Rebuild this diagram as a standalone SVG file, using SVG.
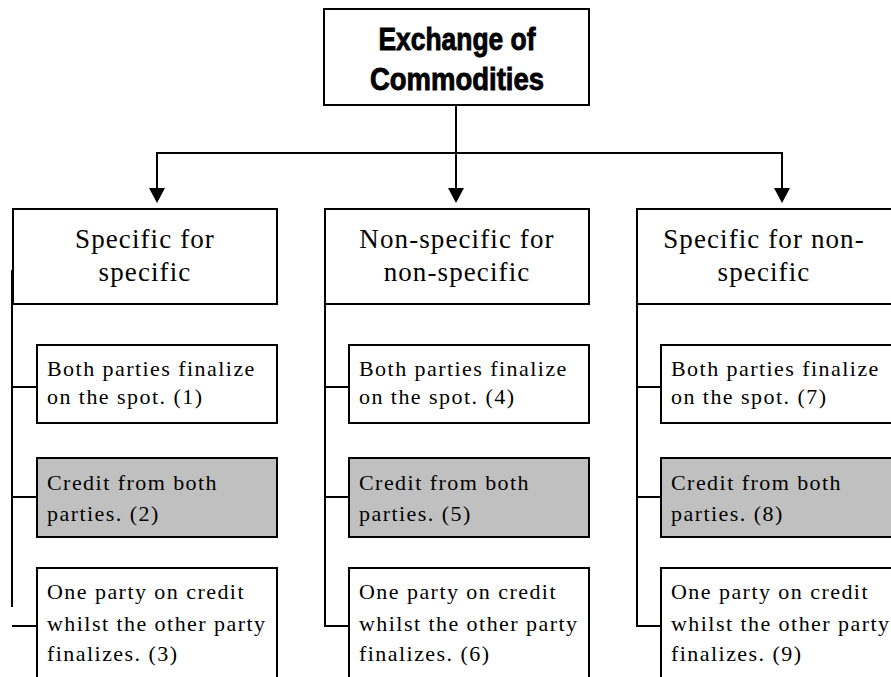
<svg xmlns="http://www.w3.org/2000/svg" width="891" height="677" viewBox="0 0 891 677">
<style>
.box{fill:#fff;stroke:#000;stroke-width:2}
.grey{fill:#c0c0c0;stroke:#000;stroke-width:2}
.ln{fill:none;stroke:#000;stroke-width:2}
.title{font-family:"Liberation Sans",Arial,sans-serif;font-weight:bold;font-size:32px;text-anchor:middle;stroke:#000;stroke-width:0.9px}
.h2{font-family:"Liberation Serif","Times New Roman",serif;font-size:27px;letter-spacing:1.1px;text-anchor:middle}
.t{font-family:"Liberation Serif","Times New Roman",serif;font-size:22px;letter-spacing:1.45px}
</style>
<g id="connectors">
<line class="ln" x1="456" y1="105" x2="456" y2="194"/>
<line class="ln" x1="156" y1="153" x2="783" y2="153"/>
<line class="ln" x1="157" y1="152" x2="157" y2="189"/>
<line class="ln" x1="782" y1="152" x2="782" y2="189"/>
<path d="M149,188 L165,188 L157,203 Z"/>
<path d="M448,188 L464,188 L456,203 Z"/>
<path d="M774,188 L790,188 L782,203 Z"/>
<line class="ln" x1="12" y1="270" x2="12" y2="607"/>
<line class="ln" x1="12" y1="387" x2="37" y2="387"/>
<line class="ln" x1="12" y1="497" x2="37" y2="497"/>
<line class="ln" x1="12" y1="626" x2="37" y2="626"/>
<path class="ln" d="M325,304 V626 H349"/>
<line class="ln" x1="325" y1="387" x2="349" y2="387"/>
<line class="ln" x1="325" y1="497" x2="349" y2="497"/>
<path class="ln" d="M637,304 V626 H661"/>
<line class="ln" x1="637" y1="387" x2="661" y2="387"/>
<line class="ln" x1="637" y1="497" x2="661" y2="497"/>
</g>
<g id="root">
<rect class="box" x="324" y="9" width="265" height="96"/>
<text class="title" x="457" y="50" textLength="157" lengthAdjust="spacingAndGlyphs">Exchange of</text>
<text class="title" x="457" y="90" textLength="174" lengthAdjust="spacingAndGlyphs">Commodities</text>
</g>
<g id="cat1">
<rect class="box" x="13" y="209" width="264" height="95"/>
<text class="h2" x="145" y="248">Specific for</text>
<text class="h2" x="145" y="281">specific</text>
</g>
<g id="cat2">
<rect class="box" x="325" y="209" width="264" height="95"/>
<text class="h2" x="457" y="248">Non-specific for</text>
<text class="h2" x="457" y="281">non-specific</text>
</g>
<g id="cat3">
<rect class="box" x="637" y="209" width="264" height="95"/>
<text class="h2" x="764" y="248">Specific for non-</text>
<text class="h2" x="764" y="281">specific</text>
</g>
<g id="n1">
<rect class="box" x="37" y="345" width="240" height="78"/>
<text class="t" x="47" y="376">Both parties finalize</text>
<text class="t" x="47" y="404">on the spot. (1)</text>
</g>
<g id="n2">
<rect class="grey" x="37" y="458" width="240" height="79"/>
<text class="t" x="47" y="490">Credit from both</text>
<text class="t" x="47" y="521">parties. (2)</text>
</g>
<g id="n3">
<rect class="box" x="37" y="568" width="240" height="120"/>
<text class="t" x="47" y="599">One party on credit</text>
<text class="t" x="47" y="631">whilst the other party</text>
<text class="t" x="47" y="661">finalizes. (3)</text>
</g>
<g id="n4">
<rect class="box" x="349" y="345" width="240" height="78"/>
<text class="t" x="359" y="376">Both parties finalize</text>
<text class="t" x="359" y="404">on the spot. (4)</text>
</g>
<g id="n5">
<rect class="grey" x="349" y="458" width="240" height="79"/>
<text class="t" x="359" y="490">Credit from both</text>
<text class="t" x="359" y="521">parties. (5)</text>
</g>
<g id="n6">
<rect class="box" x="349" y="568" width="240" height="120"/>
<text class="t" x="359" y="599">One party on credit</text>
<text class="t" x="359" y="631">whilst the other party</text>
<text class="t" x="359" y="661">finalizes. (6)</text>
</g>
<g id="n7">
<rect class="box" x="661" y="345" width="240" height="78"/>
<text class="t" x="671" y="376">Both parties finalize</text>
<text class="t" x="671" y="404">on the spot. (7)</text>
</g>
<g id="n8">
<rect class="grey" x="661" y="458" width="240" height="79"/>
<text class="t" x="671" y="490">Credit from both</text>
<text class="t" x="671" y="521">parties. (8)</text>
</g>
<g id="n9">
<rect class="box" x="661" y="568" width="240" height="120"/>
<text class="t" x="671" y="599">One party on credit</text>
<text class="t" x="671" y="631">whilst the other party</text>
<text class="t" x="671" y="661">finalizes. (9)</text>
</g>
</svg>
